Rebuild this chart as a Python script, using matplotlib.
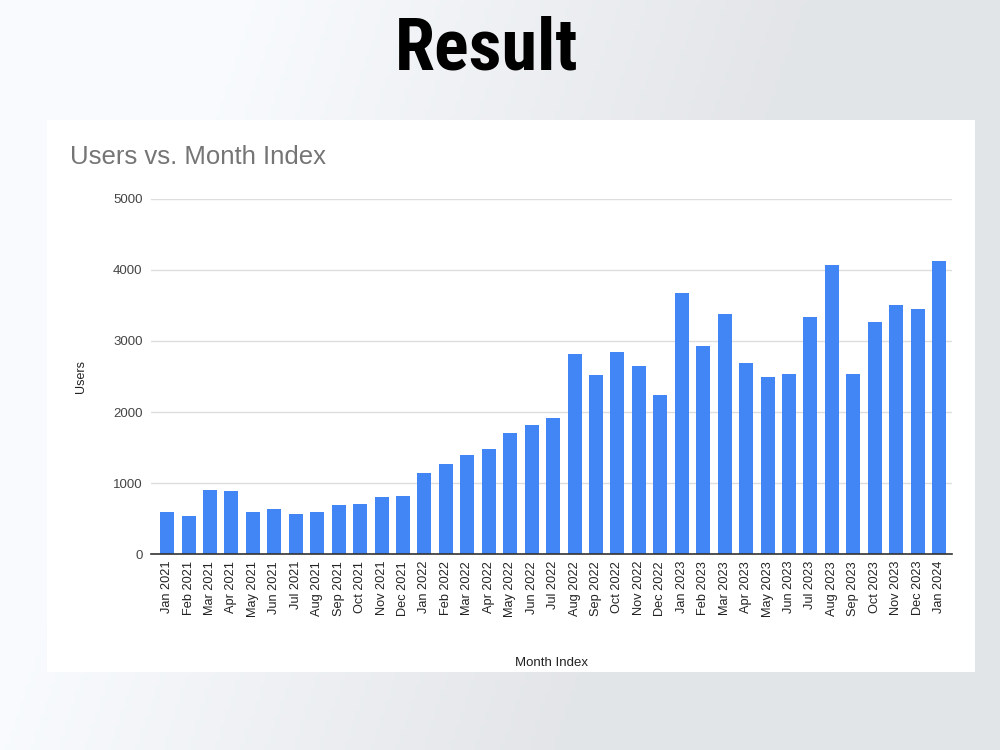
import numpy as np
import matplotlib.pyplot as plt
from matplotlib.patches import Rectangle

# month labels and user counts
months = ['Jan 2021', 'Feb 2021', 'Mar 2021', 'Apr 2021', 'May 2021', 'Jun 2021',
          'Jul 2021', 'Aug 2021', 'Sep 2021', 'Oct 2021', 'Nov 2021', 'Dec 2021',
          'Jan 2022', 'Feb 2022', 'Mar 2022', 'Apr 2022', 'May 2022', 'Jun 2022',
          'Jul 2022', 'Aug 2022', 'Sep 2022', 'Oct 2022', 'Nov 2022', 'Dec 2022',
          'Jan 2023', 'Feb 2023', 'Mar 2023', 'Apr 2023', 'May 2023', 'Jun 2023',
          'Jul 2023', 'Aug 2023', 'Sep 2023', 'Oct 2023', 'Nov 2023', 'Dec 2023',
          'Jan 2024']
users = [594, 538, 906, 892, 594, 632, 557, 594, 689, 708, 802, 821,
         1142, 1269, 1396, 1472, 1708, 1821, 1915, 2820, 2519, 2839, 2651, 2241,
         3682, 2933, 3376, 2688, 2500, 2542, 3338, 4077, 2542, 3263, 3503, 3451,
         4120]
y_ticks = [0, 1000, 2000, 3000, 4000, 5000]

plt.rcParams['font.family'] = ['Liberation Sans', 'DejaVu Sans']

fig = plt.figure(figsize=(10, 7.5), dpi=100)
fig.patch.set_facecolor('#e9edf2')

# slide background: soft gradient, lighter on the left
bg = fig.add_axes([0, 0, 1, 1], zorder=-10)
gx = np.linspace(0, 1, 200)
gy = np.linspace(0, 1, 150)
X, Y = np.meshgrid(gx, gy)
shade = 0.91 + 0.085 * np.clip(1 - (X - 0.25 * Y) * 1.8, 0, 1)
bg.imshow(np.dstack([shade * 0.978, shade * 0.987, shade]), extent=[0, 1, 0, 1],
          aspect='auto', origin='lower')
bg.set_xlim(0, 1)
bg.set_ylim(0, 1)
bg.axis('off')

# white chart panel
fig.patches.append(Rectangle((0.047, 0.104), 0.928, 0.736, transform=fig.transFigure,
                             facecolor='white', edgecolor='none', zorder=-5))

fig.text(0.487, 0.934, 'Result', ha='center', va='center', fontsize=52,
         fontweight='bold', color='black',
         family=['Liberation Sans Narrow', 'DejaVu Sans Condensed',
                 'Roboto Condensed', 'Oswald', 'Liberation Sans'])

ax = fig.add_axes([0.151, 0.2613, 0.801, 0.4734])
ax.set_facecolor('white')
x = np.arange(len(months))
ax.bar(x, users, width=0.65, color='#4285f4', zorder=3)

ax.set_ylim(0, 5000)
ax.set_xlim(-0.75, len(months) - 0.4)
ax.set_yticks(y_ticks)
ax.set_yticklabels([str(t) for t in y_ticks], fontsize=9.5, color='#444444')
ax.set_xticks(x)
ax.set_xticklabels(months, rotation=90, fontsize=9.2, color='#222222')
ax.tick_params(axis='both', length=0)
ax.tick_params(axis='y', pad=6)
ax.tick_params(axis='x', pad=5)
ax.grid(axis='y', color='#dddddd', linewidth=1, zorder=0)
for side in ['top', 'right', 'left']:
    ax.spines[side].set_visible(False)
ax.spines['bottom'].set_color('#333333')
ax.spines['bottom'].set_linewidth(1.2)
ax.spines['bottom'].set_zorder(4)

ax.set_ylabel('Users', fontsize=9, color='#222222', labelpad=19)
ax.set_xlabel('Month Index', fontsize=9.5, color='#222222', labelpad=29)

fig.text(0.07, 0.79, 'Users vs. Month Index', fontsize=18.5, color='#757575',
         ha='left', va='center')

fig.savefig('out.png', dpi=100)
